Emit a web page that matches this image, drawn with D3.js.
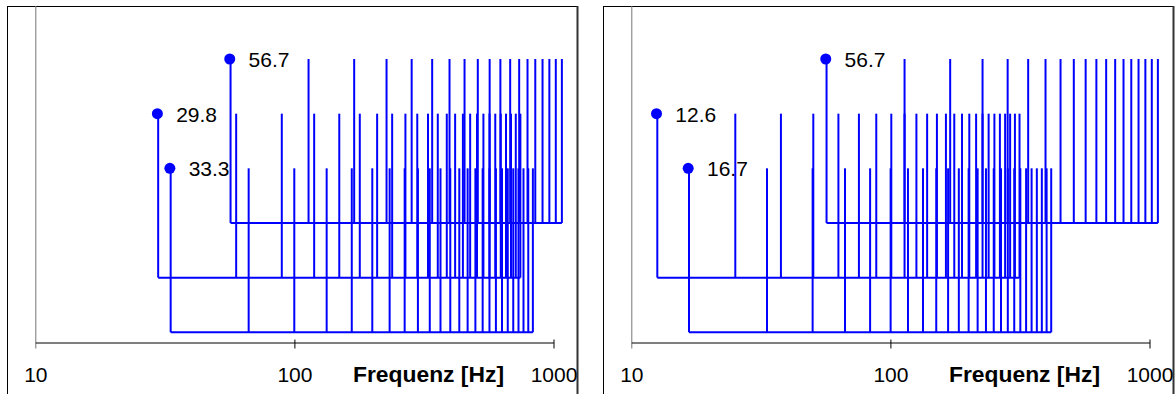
<!DOCTYPE html>
<html>
<head>
<meta charset="utf-8">
<script src="https://cdn.jsdelivr.net/npm/d3@7"></script>
<style>
  html, body { margin: 0; padding: 0; background: #fff; }
  svg { display: block; }
  text { font-family: "Liberation Sans", Arial, sans-serif; }
</style>
</head>
<body>
<svg id="chart" width="1176" height="394"></svg>
<script>
// Harmonic combs: fundamental frequency [Hz], row of the comb, number of harmonics
const leftFundamentals  = [29.8, 33.3, 56.7];
const leftRows          = [1, 0, 2];
const leftHarmonicCount = [25, 25, 19];

const rightFundamentals  = [12.6, 16.7, 56.7];
const rightRows          = [1, 0, 2];
const rightHarmonicCount = [25, 25, 19];

const tickValues = [10, 100, 1000];
const tickLabels = ["10", "100", "1000"];
const axisTitle = "Frequenz [Hz]";

// Stem length in row units
const stemRows = 3;

const BLUE = "#0000ff";
const svg = d3.select("#chart");

const panelWidth = 571;
const panelTop = 6;
const axisY = 342.5;

const x = d3.scaleLog().domain([10, 1000]).range([28.3, 546.5]);
const y = d3.scaleLinear().domain([-0.187, 5.97]).range([axisY, panelTop]);

function drawPanel(offsetX, fundamentals, rows, counts) {
  const g = svg.append("g").attr("transform", `translate(${offsetX},0)`);

  // frame
  g.append("rect")
    .attr("x", 0.5).attr("y", panelTop + 0.5)
    .attr("width", panelWidth - 1).attr("height", 420)
    .attr("fill", "none").attr("stroke", "#000").attr("stroke-width", 1);
  g.append("line")
    .attr("x1", panelWidth - 0.5).attr("x2", panelWidth - 0.5)
    .attr("y1", panelTop).attr("y2", 394)
    .attr("stroke", "#333").attr("stroke-width", 2);

  // vertical axis line
  g.append("line")
    .attr("x1", x(10) + 0.5).attr("x2", x(10) + 0.5)
    .attr("y1", panelTop).attr("y2", axisY + 6)
    .attr("stroke", "#777").attr("stroke-width", 1);

  // frequency axis
  const axis = d3.axisBottom(x)
    .tickValues(tickValues)
    .tickFormat((d, i) => tickLabels[i])
    .tickSizeInner(6)
    .tickSizeOuter(0);
  const ax = g.append("g")
    .attr("transform", `translate(0,${axisY})`)
    .call(axis);
  ax.select(".domain").attr("stroke", "#000").attr("stroke-width", 1);
  ax.selectAll(".tick line")
    .attr("y1", -3).attr("y2", 6)
    .attr("stroke", "#000")
    .attr("display", d => d === 10 ? "none" : null);
  ax.selectAll(".tick text")
    .attr("y", 39).attr("dy", 0)
    .attr("fill", "#000")
    .style("font-size", "21px")
    .style("font-family", "'Liberation Sans', Arial, sans-serif");

  g.append("text")
    .attr("x", 346).attr("y", axisY + 39)
    .attr("text-anchor", "start")
    .attr("textLength", 151)
    .attr("lengthAdjust", "spacingAndGlyphs")
    .style("font-size", "22px").style("font-weight", "bold")
    .attr("fill", "#000")
    .text(axisTitle);

  const series = fundamentals.map((f0, i) => ({
    f0,
    row: rows[i],
    harmonics: d3.range(1, counts[i] + 1).map(n => n * f0)
  }));

  // fundamental value labels
  g.selectAll("text.val").data(series).join("text")
    .attr("class", "val")
    .attr("x", d => x(d.f0) + 18)
    .attr("y", d => y(d.row + stemRows) + 8)
    .style("font-size", "21px")
    .attr("fill", "#000")
    .text(d => d.f0.toFixed(1));

  const combs = g.selectAll("g.comb").data(series).join("g").attr("class", "comb");

  // baseline of each comb
  combs.append("line")
    .attr("x1", d => x(d.f0)).attr("x2", d => x(d.harmonics[d.harmonics.length - 1]))
    .attr("y1", d => y(d.row)).attr("y2", d => y(d.row))
    .attr("stroke", BLUE).attr("stroke-width", 2);

  // harmonic stems
  combs.selectAll("line.stem")
    .data(d => d.harmonics.map(h => ({ h, row: d.row })))
    .join("line")
    .attr("class", "stem")
    .attr("x1", d => x(d.h)).attr("x2", d => x(d.h))
    .attr("y1", d => y(d.row)).attr("y2", d => y(d.row + stemRows))
    .attr("stroke", BLUE).attr("stroke-width", 2);

  // marker on the fundamental
  combs.append("circle")
    .attr("cx", d => x(d.f0) - 0.8)
    .attr("cy", d => y(d.row + stemRows))
    .attr("r", 5.5)
    .attr("fill", BLUE);
}

drawPanel(7, leftFundamentals, leftRows, leftHarmonicCount);
drawPanel(603, rightFundamentals, rightRows, rightHarmonicCount);
</script>
</body>
</html>
